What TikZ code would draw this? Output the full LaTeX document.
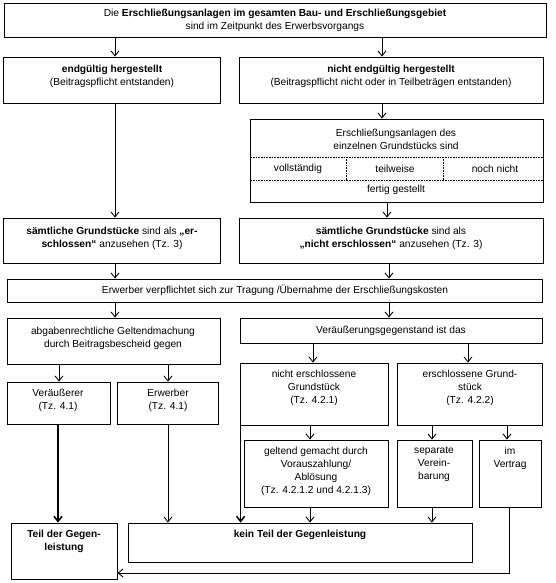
\documentclass[tikz,border=0pt]{standalone}
\usepackage{fontspec}
\setmainfont{Liberation Sans}
\usetikzlibrary{arrows.meta,fit}
\tikzset{
  box/.style={draw, line width=0.8pt, inner sep=0pt},
  txt/.style={align=center, inner sep=0pt, font=\fontsize{10.2}{13}\selectfont},
  arr/.style={-{Straight Barb[length=5pt,width=8pt]}, line width=0.9pt},
  thickarr/.style={-{Straight Barb[length=5pt,width=8pt]}, line width=1.6pt},
  dotline/.style={densely dotted, line width=0.6pt}
}
\begin{document}
\begin{tikzpicture}[x=1pt,y=-1pt]
\useasboundingbox (0,0) rectangle (555,583);
% boxes
\node[box, fit={(4,3) (546,37)}] (top) {};
\node[box, fit={(3,57) (220,103)}] (endg) {};
\node[box, fit={(239,57) (543,103)}] (nendg) {};
\node[box, fit={(250,119) (543,202)}] (erschl) {};
\node[box, fit={(3,218) (220,263)}] (saemL) {};
\node[box, fit={(239,218) (543,263)}] (saemR) {};
\node[box, fit={(7,279) (542,302)}] (verpf) {};
\node[box, fit={(7,318) (220,364)}] (abgaben) {};
\node[box, fit={(240,318) (542,343)}] (veraeg) {};
\node[box, fit={(7,382) (110,424)}] (veraeusserer) {};
\node[box, fit={(117,382) (218,424)}] (erwerber) {};
\node[box, fit={(240,363) (388,425)}] (nerschl) {};
\node[box, fit={(397,363) (542,425)}] (erschlG) {};
\node[box, fit={(244,440) (388,507)}] (geltend) {};
\node[box, fit={(397,440) (472,507)}] (separate) {};
\node[box, fit={(479,440) (541,507)}] (imvertrag) {};
\node[box, fit={(11,523) (117,579)}] (teil) {};
\node[box, fit={(128,523) (472,562)}] (keinteil) {};
% inner dotted divisions
\draw[dotline] (erschl.west |- 0,157) -- (erschl.east |- 0,157);
\draw[dotline] (erschl.west |- 0,180) -- (erschl.east |- 0,180);
\draw[dotline] (346,157) -- (346,180);
\draw[dotline] (443,157) -- (443,180);
% texts
\node[txt] (ttop) at (275,20) {Die \textbf{Erschließungsanlagen im gesamten Bau- und Erschließungsgebiet}\\sind im Zeitpunkt des Erwerbsvorgangs};
\node[txt] (tendg) at (112,76) {\textbf{endgültig hergestellt}\\(Beitragspflicht entstanden)};
\node[txt] (tnendg) at (391,76) {\textbf{nicht endgültig hergestellt}\\(Beitragspflicht nicht oder in Teilbeträgen entstanden)};
\node[txt] (terschl) at (396,139) {Erschließungsanlagen des\\einzelnen Grundstücks sind};
\node[txt] (tvoll) at (298,169) {vollständig};
\node[txt] (tteil) at (395,169) {teilweise};
\node[txt] (tnoch) at (495,169) {noch nicht};
\node[txt] (tfertig) at (396,190) {fertig gestellt};
\node[txt] (tsaemL) at (112,238) {\textbf{sämtliche Grundstücke} sind als \textbf{„er-}\\\textbf{schlossen“} anzusehen (Tz. 3)};
\node[txt] (tsaemR) at (391,238) {\textbf{sämtliche Grundstücke} sind als\\\textbf{„nicht erschlossen“} anzusehen (Tz. 3)};
\node[txt] (tverpf) at (275,290) {Erwerber verpflichtet sich zur Tragung /Übernahme der Erschließungskosten};
\node[txt] (tabg) at (113,338) {abgabenrechtliche Geltendmachung\\durch Beitragsbescheid gegen};
\node[txt] (tveraeg) at (391,331) {Veräußerungsgegenstand ist das};
\node[txt] (tveraeusserer) at (58,400) {Veräußerer\\(Tz. 4.1)};
\node[txt] (terwerber) at (168,400) {Erwerber\\(Tz. 4.1)};
\node[txt] (tnerschl) at (314,388) {nicht erschlossene\\Grundstück\\(Tz. 4.2.1)};
\node[txt] (terschlG) at (470,388) {erschlossene Grund-\\stück\\(Tz. 4.2.2)};
\node[txt] (tgeltend) at (316,471) {geltend gemacht durch\\Vorauszahlung/\\Ablösung\\(Tz. 4.2.1.2 und 4.2.1.3)};
\node[txt] (tseparate) at (434,464) {separate\\Verein-\\barung};
\node[txt] (timvertrag) at (510,458) {im\\Vertrag};
\node[txt] (tteilG) at (64,541) {\textbf{Teil der Gegen-}\\\textbf{leistung}};
\node[txt] (tkein) at (300,535) {\textbf{kein Teil der Gegenleistung}};
% connectors
\draw[arr] (top.south -| 115,0) -- (endg.north -| 115,0);
\draw[arr] (top.south -| 382,0) -- (nendg.north -| 382,0);
\draw[arr] (endg.south -| 115,0) -- (saemL.north -| 115,0);
\draw[arr] (nendg.south -| 382,0) -- (erschl.north -| 382,0);
\draw[arr] (erschl.south -| 387,0) -- (saemR.north -| 387,0);
\draw[arr] (saemL.south -| 115,0) -- (verpf.north -| 115,0);
\draw[arr] (saemR.south -| 389,0) -- (verpf.north -| 389,0);
\draw[arr] (verpf.south -| 115,0) -- (abgaben.north -| 115,0);
\draw[arr] (verpf.south -| 389,0) -- (veraeg.north -| 389,0);
\draw[arr] (abgaben.south -| 59,0) -- (veraeusserer.north -| 59,0);
\draw[arr] (abgaben.south -| 168,0) -- (erwerber.north -| 168,0);
\draw[arr] (veraeg.south -| 313,0) -- (nerschl.north -| 313,0);
\draw[arr] (veraeg.south -| 468,0) -- (erschlG.north -| 468,0);
\draw[arr] (nerschl.south -| 310,0) -- (geltend.north -| 310,0);
\draw[arr] (erschlG.south -| 432,0) -- (separate.north -| 432,0);
\draw[arr] (erschlG.south -| 507,0) -- (imvertrag.north -| 507,0);
\draw[thickarr] (veraeusserer.south -| 58,0) -- (teil.north -| 58,0);
\draw[arr] (erwerber.south -| 168,0) -- (keinteil.north -| 168,0);
\coordinate (nsw) at ([xshift=1pt]nerschl.south west);
\draw[thickarr] (nsw) -- (nsw |- keinteil.north);
\draw[arr] (geltend.south -| 310,0) -- (keinteil.north -| 310,0);
\draw[arr] (separate.south -| 432,0) -- (keinteil.north -| 432,0);
\coordinate (ret) at (509,573);
\draw[arr] (imvertrag.south -| ret) -- (ret) -- (teil.east |- ret);
\end{tikzpicture}
\end{document}
